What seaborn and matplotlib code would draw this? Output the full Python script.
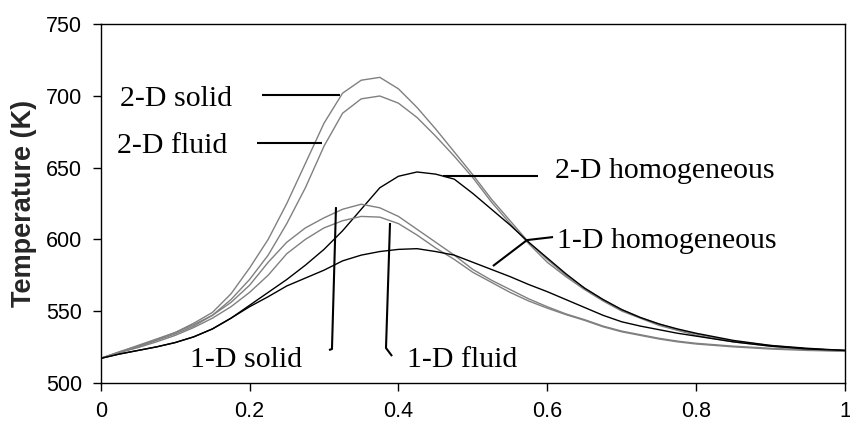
import numpy as np
import pandas as pd
import matplotlib
matplotlib.use("Agg")
import matplotlib.pyplot as plt
import seaborn as sns

# ---- data ----
x_pos = [0, 0.025, 0.05, 0.075, 0.1, 0.125, 0.15, 0.175, 0.2, 0.225, 0.25, 0.275, 0.3,
         0.325, 0.35, 0.375, 0.4, 0.425, 0.45, 0.475, 0.5, 0.525, 0.55, 0.575, 0.6,
         0.625, 0.65, 0.675, 0.7, 0.725, 0.75, 0.775, 0.8, 0.85, 0.9, 0.95, 1.0]

solid_2d = [517, 521.5, 526, 530.5, 535, 541.5, 549, 562, 580, 600, 625, 653, 681,
            702, 711, 713, 705, 692, 677, 661, 645, 628, 613, 598, 586,
            575, 566, 558, 551, 545.5, 541, 537, 534, 529, 526, 523.5, 522.5]
fluid_2d = [517, 521, 525, 529.5, 534, 539.5, 547, 558, 572, 589, 611, 636, 665,
            688, 698, 700, 695, 685, 672, 658, 643, 626, 611, 597, 584,
            574, 565, 557, 550, 545, 540, 536.5, 533, 528.5, 525.5, 523.5, 522.5]
homog_2d = [517, 520, 522.5, 525, 528, 532, 537.5, 545, 554, 563, 572, 582, 593,
            606, 621, 636, 644, 647, 645.5, 642, 632, 621, 610, 598, 587,
            576, 566, 558, 551, 545.5, 541, 537.5, 534.5, 529.5, 526, 524, 522.5]
solid_1d = [517, 521.5, 525.5, 530, 535, 540.5, 547, 556, 568, 584, 598, 608, 615,
            621, 624.5, 622, 616, 607, 598, 589, 579, 571.5, 565, 558.5, 553,
            548, 544, 539.5, 536, 533.5, 531, 529, 527.5, 525.5, 524, 523, 522]
fluid_1d = [517, 521, 524.5, 528.5, 533, 538.5, 545, 553, 563, 575, 590, 600, 608,
            613, 616, 615.5, 611, 603, 594, 586, 577, 570, 563, 557, 552,
            547.5, 543.5, 539, 535.5, 533, 530.5, 528.5, 527, 525, 523.5, 522.5, 522]
homog_1d = [517, 520, 522.5, 525, 528, 532, 537.5, 545, 553, 560, 567.5, 573, 578.5,
            585, 589, 591.5, 593, 593.5, 591.5, 589, 584, 579, 574, 568.5, 563.5,
            558, 552.5, 547, 542.5, 539.5, 537, 534.5, 532.5, 528.5, 525.5, 523.5, 522.5]

series_names = ["2-D solid", "2-D fluid", "2-D homogeneous",
                "1-D solid", "1-D fluid", "1-D homogeneous"]
series_values = [solid_2d, fluid_2d, homog_2d, solid_1d, fluid_1d, homog_1d]
series_colors = ["#808080", "#808080", "#000000", "#808080", "#808080", "#000000"]

y_ticks = [500, 550, 600, 650, 700, 750]
x_ticks = [0, 0.2, 0.4, 0.6, 0.8, 1]
x_tick_labels = ["0", "0.2", "0.4", "0.6", "0.8", "1"]

# annotation labels: (text, text x, text y, leader line xs, leader line ys)
labels = [
    ("2-D solid", 0.026, 693.0, [0.2167, 0.3215], [700.7, 700.7]),
    ("2-D fluid", 0.022, 660.4, [0.210, 0.2973], [667.2, 667.2]),
    ("2-D homogeneous", 0.6104, 642.8, [0.460, 0.5876], [644.2, 644.2]),
    ("1-D homogeneous", 0.6126, 593.8, [0.6078, 0.5728, 0.527], [601.6, 599.5, 581.4]),
    ("1-D solid", 0.120, 511.2, [0.3067, 0.3107, 0.3161], [522.8, 523.5, 622.5]),
    ("1-D fluid", 0.411, 511.2, [0.3914, 0.3833, 0.3887], [518.6, 524.2, 611.4]),
]

# ---- build table ----
frames = []
for name, vals in zip(series_names, series_values):
    frames.append(pd.DataFrame({"x": x_pos, "T": vals, "series": name}))
df = pd.concat(frames, ignore_index=True)

sns.set_theme(style="white")
plt.rcParams["font.family"] = ["Liberation Sans", "DejaVu Sans"]

fig = plt.figure(figsize=(8.5, 4.25), dpi=100)
ax = fig.add_axes([0.1185, 0.0995, 0.9941 - 0.1185, 0.9428 - 0.0995])

sns.lineplot(data=df, x="x", y="T", hue="series", hue_order=series_names,
             palette=dict(zip(series_names, series_colors)), linewidth=1.0,
             legend=False, ax=ax, sort=False, estimator=None)

for text, tx, ty, lx, ly in labels:
    ax.plot(lx, ly, color="black", linewidth=1.5, solid_capstyle="butt")
    ax.text(tx, ty, text, ha="left", va="baseline", fontsize=21.5,
            family=["Liberation Serif", "DejaVu Serif"], color="black")

ax.set_xlim(0, 1)
ax.set_ylim(500, 750)
ax.set_xticks(x_ticks)
ax.set_xticklabels(x_tick_labels)
ax.set_yticks(y_ticks)
ax.set_xlabel("")
ax.set_ylabel("Temperature (K)", fontsize=19.5, fontweight="bold", labelpad=6)

ax.tick_params(axis="both", direction="out", length=5.5, width=1, color="black",
               labelsize=15.5, labelcolor="black", left=True, bottom=True)
ax.tick_params(axis="x", pad=8)
ax.tick_params(axis="y", pad=8)
for s in ax.spines.values():
    s.set_visible(True)
    s.set_color("black")
    s.set_linewidth(1.0)
ax.grid(False)

fig.savefig("out.png", dpi=100)
